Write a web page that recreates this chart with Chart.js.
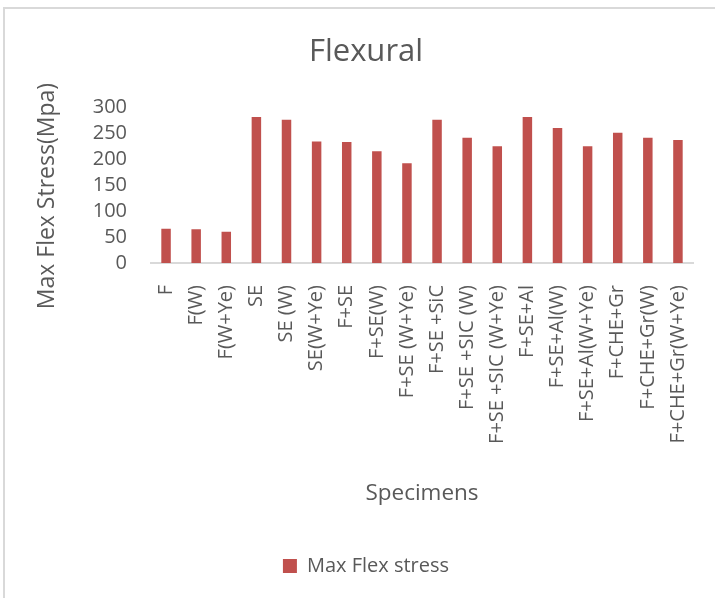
<!DOCTYPE html>
<html>
<head>
<meta charset="utf-8">
<script src="https://cdn.jsdelivr.net/npm/chart.js@4/dist/chart.umd.min.js"></script>
<style>
  html, body { margin: 0; padding: 0; background: #ffffff; overflow: hidden; }
  #frame {
    position: absolute; left: 3px; top: 7px; width: 800px; height: 700px;
    border-left: 2px solid #d9d9d9; border-top: 2px solid #d9d9d9;
  }
  #wrap { position: absolute; left: 0; top: 0; width: 732px; height: 598px; }
</style>
</head>
<body>
<div id="frame"></div>
<div id="wrap"><canvas id="chart" width="732" height="598"></canvas></div>
<script>
// Specimen names along the x axis
const specimens = [
  "F", "F(W)", "F(W+Ye)", "SE", "SE (W)", "SE(W+Ye)", "F+SE", "F+SE(W)",
  "F+SE (W+Ye)", "F+SE +SiC", "F+SE +SIC (W)", "F+SE +SIC (W+Ye)",
  "F+SE+Al", "F+SE+Al(W)", "F+SE+Al(W+Ye)", "F+CHE+Gr", "F+CHE+Gr(W)",
  "F+CHE+Gr(W+Ye)"
];

// Maximum flexural stress per specimen, MPa
const maxFlexStress = [
  66, 65, 60, 281, 276, 234, 233, 215,
  192, 276, 241, 225,
  281, 260, 225, 251, 241,
  237
];

// Value axis range
const yMin = 0;
const yMax = 300;
const yStep = 50;

const yAxisTitle = "Max Flex Stress(Mpa)";

const textColor = "#595959";
const fontFamily = "'Open Sans', 'Noto Sans', sans-serif";

// Draws the value-axis title beside the tick labels, centred a little
// below the middle of the plot area.
const valueAxisTitle = {
  id: "valueAxisTitle",
  afterDraw(chart) {
    const { ctx, chartArea } = chart;
    ctx.save();
    ctx.fillStyle = textColor;
    ctx.font = "23px " + fontFamily;
    ctx.textAlign = "center";
    ctx.textBaseline = "middle";
    ctx.translate(47, (chartArea.top + chartArea.bottom) / 2 + 11);
    ctx.rotate(-Math.PI / 2);
    ctx.fillText(yAxisTitle, 0, 0);
    ctx.restore();
  }
};

new Chart(document.getElementById("chart"), {
  type: "bar",
  data: {
    labels: specimens,
    datasets: [{
      label: "Max Flex stress",
      data: maxFlexStress,
      backgroundColor: "#C0504D",
      borderWidth: 0,
      categoryPercentage: 1.0,
      barPercentage: 0.315,
      yAxisID: "y"
    }]
  },
  plugins: [valueAxisTitle],
  options: {
    responsive: false,
    animation: false,
    devicePixelRatio: 1,
    layout: { padding: { left: 0, right: 0, top: 0, bottom: 12 } },
    plugins: {
      title: {
        display: true,
        text: "Flexural",
        color: textColor,
        font: { family: fontFamily, size: 31, weight: "normal", lineHeight: 1.2 },
        padding: { top: 34, bottom: 36 }
      },
      legend: {
        display: true,
        position: "bottom",
        labels: {
          color: textColor,
          font: { family: fontFamily, size: 20 },
          boxWidth: 14,
          boxHeight: 14,
          padding: 10
        }
      },
      tooltip: { enabled: false }
    },
    scales: {
      x: {
        grid: { display: false, drawTicks: false },
        border: { display: true, color: "#d9d9d9", width: 2 },
        ticks: {
          color: textColor,
          font: { family: fontFamily, size: 20 },
          minRotation: 90,
          maxRotation: 90,
          autoSkip: false,
          padding: 22
        },
        title: {
          display: true,
          text: "Specimens",
          color: textColor,
          font: { family: fontFamily, size: 22.5 },
          padding: { top: 0, bottom: 39 }
        },
        afterFit: (scale) => { scale.height = 283; }
      },
      y: {
        position: "left",
        min: yMin,
        max: yMax,
        grid: { display: false, drawTicks: false },
        border: { display: false },
        ticks: {
          stepSize: yStep,
          autoSkip: false,
          color: textColor,
          font: { family: fontFamily, size: 20 },
          padding: 24
        },
        afterFit: (scale) => { scale.width = 151; }
      },
      y1: {
        position: "right",
        display: true,
        grid: { display: false, drawTicks: false },
        border: { display: false },
        ticks: { display: false },
        afterFit: (scale) => { scale.width = 39; }
      }
    }
  }
});
</script>
</body>
</html>
